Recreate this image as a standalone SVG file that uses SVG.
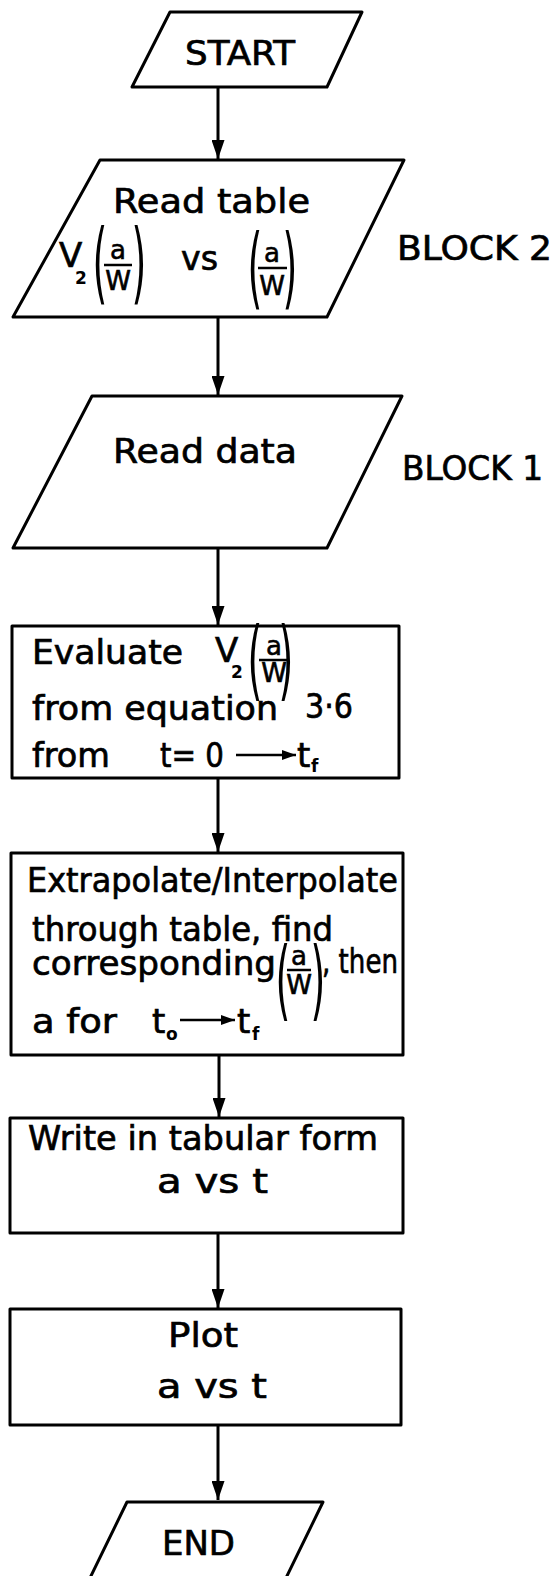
<svg xmlns="http://www.w3.org/2000/svg" width="557" height="1576" viewBox="0 0 557 1576">
<defs>
<style>
.shape{fill:#fff;stroke:#000;stroke-width:3;stroke-linejoin:round}
.t{font-family:"DejaVu Sans","Liberation Sans",sans-serif;font-size:34px;fill:#000;stroke:#000;stroke-width:0.7}
.f{font-family:"DejaVu Sans","Liberation Sans",sans-serif;font-size:26px;fill:#000;stroke:#000;stroke-width:0.6;text-anchor:middle}
.s{font-family:"DejaVu Sans","Liberation Sans",sans-serif;font-size:17px;font-weight:bold;fill:#000}
.p{font-family:"DejaVu Sans","Liberation Sans",sans-serif;font-size:38px;fill:#000;text-anchor:middle}
.bar{stroke:#000;stroke-width:2.5}
.conn{stroke:#000;stroke-width:3;fill:none;marker-end:url(#ah)}
.marr{stroke:#000;stroke-width:2.5;fill:none;marker-end:url(#sa)}
</style>
<marker id="ah" markerUnits="userSpaceOnUse" markerWidth="19" markerHeight="13" viewBox="0 0 19 13" refX="19" refY="6.5" orient="auto">
<path d="M0,0 L19,6.5 L0,13 Z" fill="#000"/>
</marker>
<marker id="sa" markerUnits="userSpaceOnUse" markerWidth="14" markerHeight="10" viewBox="0 0 14 10" refX="14" refY="5" orient="auto">
<path d="M0,0 L14,5 L0,10 Z" fill="#000"/>
</marker>
</defs>
<rect width="557" height="1576" fill="#fff"/>

<g id="connectors">
<line class="conn" x1="218" y1="88" x2="218" y2="159"/>
<line class="conn" x1="218" y1="318" x2="218" y2="395"/>
<line class="conn" x1="218" y1="549" x2="218" y2="625"/>
<line class="conn" x1="218" y1="779" x2="218" y2="852"/>
<line class="conn" x1="219" y1="1056" x2="219" y2="1117"/>
<line class="conn" x1="218" y1="1234" x2="218" y2="1308"/>
<line class="conn" x1="218" y1="1426" x2="218" y2="1500"/>
</g>

<g id="start">
<polygon class="shape" points="170,12 362,12 327,87 132,87"/>
<text class="t" x="185" y="65" font-size="36" textLength="110" lengthAdjust="spacingAndGlyphs">START</text>
</g>

<g id="block2">
<polygon class="shape" points="100,160 404,160 327,317 13,317"/>
<text class="t" x="113" y="213" textLength="197" lengthAdjust="spacingAndGlyphs">Read table</text>
<text class="t" x="59" y="267" font-size="30">V</text>
<text class="s" x="75" y="284">2</text>
<text class="p" x="100" y="293" transform="translate(100 293) scale(1 2.35) translate(-100 -293)">(</text>
<text class="f" x="118" y="259">a</text>
<line class="bar" x1="104" y1="265" x2="132" y2="265"/>
<text class="f" x="118" y="290" font-size="25">W</text>
<text class="p" x="139" y="293" transform="translate(139 293) scale(1 2.35) translate(-139 -293)">)</text>
<text class="t" x="181" y="270" textLength="37" lengthAdjust="spacingAndGlyphs">vs</text>
<text class="p" x="255" y="298" transform="translate(255 298) scale(1 2.35) translate(-255 -298)">(</text>
<text class="f" x="272" y="262">a</text>
<line class="bar" x1="258" y1="268" x2="287" y2="268"/>
<text class="f" x="272" y="295" font-size="25">W</text>
<text class="p" x="290" y="298" transform="translate(290 298) scale(1 2.35) translate(-290 -298)">)</text>
<text class="t" x="397" y="260" font-size="32" textLength="155" lengthAdjust="spacingAndGlyphs">BLOCK 2</text>
</g>

<g id="block1">
<polygon class="shape" points="92,396 402,396 327,548 13,548"/>
<text class="t" x="113" y="463" textLength="184" lengthAdjust="spacingAndGlyphs">Read data</text>
<text class="t" x="402" y="480" font-size="32" textLength="141" lengthAdjust="spacingAndGlyphs">BLOCK 1</text>
</g>

<g id="evaluate">
<rect class="shape" x="12" y="626" width="387" height="152"/>
<text class="t" x="32" y="664" textLength="151" lengthAdjust="spacingAndGlyphs">Evaluate</text>
<text class="t" x="215" y="662" font-size="32">V</text>
<text class="s" x="231" y="678">2</text>
<text class="p" x="255" y="689" transform="translate(255 689) scale(1 2.3) translate(-255 -689)">(</text>
<text class="f" x="274" y="655">a</text>
<line class="bar" x1="259" y1="660" x2="289" y2="660"/>
<text class="f" x="274" y="682" font-size="24">W</text>
<text class="p" x="286" y="689" transform="translate(286 689) scale(1 2.3) translate(-286 -689)">)</text>
<text class="t" x="32" y="720" textLength="246" lengthAdjust="spacingAndGlyphs">from equation</text>
<text class="t" x="305" y="718" textLength="48" lengthAdjust="spacingAndGlyphs">3·6</text>
<text class="t" x="32" y="767" textLength="78" lengthAdjust="spacingAndGlyphs">from</text>
<text class="t" x="160" y="767" textLength="64" lengthAdjust="spacingAndGlyphs">t= 0</text>
<line class="marr" x1="236" y1="755" x2="296" y2="755"/>
<text class="t" x="297" y="767">t</text>
<text class="s" x="311" y="772">f</text>
</g>

<g id="extrapolate">
<rect class="shape" x="11" y="853" width="392" height="202"/>
<text class="t" x="27" y="892" font-size="33" textLength="371" lengthAdjust="spacingAndGlyphs">Extrapolate/Interpolate</text>
<text class="t" x="32" y="941" textLength="301" lengthAdjust="spacingAndGlyphs">through table, find</text>
<text class="t" x="32" y="975" textLength="244" lengthAdjust="spacingAndGlyphs">corresponding</text>
<text class="p" x="283" y="1009" transform="translate(283 1009) scale(1 2.3) translate(-283 -1009)">(</text>
<text class="f" x="299" y="965">a</text>
<line class="bar" x1="287" y1="970" x2="311" y2="970"/>
<text class="f" x="299" y="994" font-size="24">W</text>
<text class="p" x="318" y="1009" transform="translate(318 1009) scale(1 2.3) translate(-318 -1009)">)</text>
<text class="t" x="322" y="973" textLength="76" lengthAdjust="spacingAndGlyphs">, then</text>
<text class="t" x="32" y="1033" textLength="85" lengthAdjust="spacingAndGlyphs">a for</text>
<text class="t" x="152" y="1033">t</text>
<text class="s" x="166" y="1040">o</text>
<line class="marr" x1="180" y1="1020" x2="235" y2="1020"/>
<text class="t" x="237" y="1033">t</text>
<text class="s" x="252" y="1040">f</text>
</g>

<g id="write">
<rect class="shape" x="10" y="1118" width="393" height="115"/>
<text class="t" x="28" y="1150" textLength="350" lengthAdjust="spacingAndGlyphs">Write in tabular form</text>
<text class="t" x="157" y="1193" textLength="111" lengthAdjust="spacingAndGlyphs">a vs t</text>
</g>

<g id="plot">
<rect class="shape" x="10" y="1309" width="391" height="116"/>
<text class="t" x="168" y="1347" textLength="70" lengthAdjust="spacingAndGlyphs">Plot</text>
<text class="t" x="157" y="1398" textLength="110" lengthAdjust="spacingAndGlyphs">a vs t</text>
</g>

<g id="end">
<polygon class="shape" points="127,1502 323,1502 285,1580 89,1580"/>
<text class="t" x="162" y="1555" font-size="36" textLength="73" lengthAdjust="spacingAndGlyphs">END</text>
</g>
</svg>
